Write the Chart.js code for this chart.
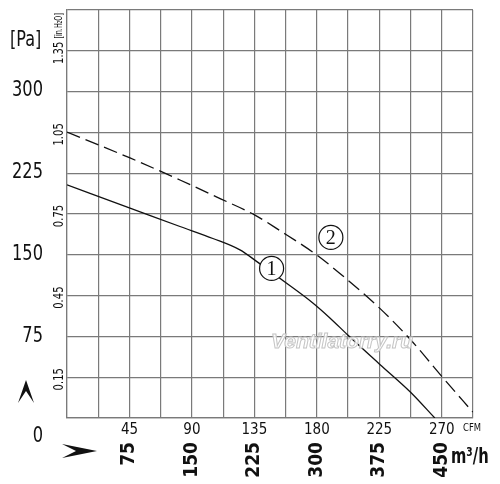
<!DOCTYPE html>
<html lang="en">
<head>
<meta charset="UTF-8" />
<title>Fan curve</title>
<script src="https://cdn.jsdelivr.net/npm/chart.js@4.4.1/dist/chart.umd.min.js"></script>
<style>
  body { margin: 0; background: #fff; }
  #wrap { width: 500px; height: 484px; position: relative; }
</style>
</head>
<body>
<div id="wrap"><canvas id="fan-graph"></canvas></div>
<script>
  // airflow in CFM, static pressure in in.H2O
  const curve1Flow  = [0, 45.4, 81.4, 105.1, 124.6, 136.8, 157.0, 177.1, 189.4, 202.3, 225.4, 247.7, 265.0];
  const curve1Press = [0.857, 0.772, 0.704, 0.660, 0.618, 0.575, 0.500, 0.423, 0.368, 0.305, 0.197, 0.094, 0];
  const curve2Flow  = [0, 45.4, 81.4, 108.0, 135.4, 153.4, 180.0, 202.3, 225.4, 247.7, 270.0, 292.3];
  const curve2Press = [1.051, 0.956, 0.875, 0.812, 0.746, 0.689, 0.599, 0.507, 0.403, 0.287, 0.153, 0.022];

  const cfmTicks   = [45, 90, 135, 180, 225, 270];
  const m3hTicks   = ['75', '150', '225', '300', '375', '450'];
  const inH2OTicks = [0.15, 0.45, 0.75, 1.05, 1.35];
  const paTicks    = [0, 75, 150, 225, 300];

  const narrow = "'Liberation Sans Narrow', 'DejaVu Sans Condensed', sans-serif";
  const gridColor = '#7a7a7a';

  function pts(xs, ys) {
    return xs.map((v, i) => ({ x: v, y: ys[i] }));
  }

  // squeezed text, the picture uses a very narrow face
  function narrowText(ctx, text, px, py, angle, squeeze) {
    ctx.save();
    ctx.translate(px, py);
    ctx.rotate(angle);
    ctx.scale(squeeze, 1);
    ctx.fillText(text, 0, 0);
    ctx.restore();
  }

  // extra text / marks that chart.js has no option for
  const decorations = {
    id: 'decorations',
    afterDatasetsDraw(chart) {
      const ctx = chart.ctx;
      const x = chart.scales.x, y = chart.scales.y;
      ctx.save();
      // watermark
      ctx.font = 'italic bold 21px Liberation Sans, sans-serif';
      ctx.textAlign = 'left';
      ctx.textBaseline = 'middle';
      ctx.fillStyle = 'rgba(255,255,255,0.85)';
      ctx.strokeStyle = '#c4c4c4';
      ctx.lineWidth = 1;
      ctx.fillText('Ventilatorry.ru', x.getPixelForValue(147), y.getPixelForValue(0.28));
      ctx.strokeText('Ventilatorry.ru', x.getPixelForValue(147), y.getPixelForValue(0.28));
      // curve numbers
      [[147.4, 0.55, '1'], [190.1, 0.664, '2']].forEach(function (m) {
        const cx = x.getPixelForValue(m[0]), cy = y.getPixelForValue(m[1]);
        ctx.beginPath();
        ctx.arc(cx, cy, 12, 0, Math.PI * 2);
        ctx.fillStyle = '#fff';
        ctx.fill();
        ctx.strokeStyle = '#111';
        ctx.lineWidth = 1.2;
        ctx.stroke();
        ctx.fillStyle = '#111';
        ctx.font = '20px Liberation Serif, serif';
        ctx.textAlign = 'center';
        ctx.fillText(m[2], cx, cy + 1);
      });
      ctx.restore();
    },
    afterDraw(chart) {
      const ctx = chart.ctx;
      const y = chart.scales.y, x = chart.scales.x, yPa = chart.scales.yPa;
      ctx.save();
      ctx.fillStyle = '#111';
      ctx.textBaseline = 'middle';
      // Pa labels (the 0 sits down on the m3/h row in the original)
      ctx.font = '22px ' + narrow;
      ctx.textAlign = 'right';
      paTicks.forEach(function (v) {
        const py = yPa.getPixelForValue(v) + (v === 0 ? 18 : 0);
        narrowText(ctx, String(v), yPa.right - 2, py, 0, 0.82);
      });
      // rotated in.H2O tick labels
      ctx.font = '14px ' + narrow;
      ctx.textAlign = 'center';
      inH2OTicks.forEach(function (v) {
        narrowText(ctx, v.toFixed(2), y.right - 8, y.getPixelForValue(v) + 2, -Math.PI / 2, 0.8);
      });
      ctx.font = '11px ' + narrow;
      narrowText(ctx, '[in.H\u2082O]', y.right - 8, y.getPixelForValue(1.35) - 25, -Math.PI / 2, 0.65);
      // unit titles
      ctx.textAlign = 'left';
      ctx.font = '21px ' + narrow;
      narrowText(ctx, '[Pa]', 10, 41, 0, 0.85);
      ctx.font = '11px ' + narrow;
      narrowText(ctx, 'CFM', x.right - 10, 428, 0, 0.85);
      ctx.font = 'bold 21px ' + narrow;
      ctx.textBaseline = 'alphabetic';
      narrowText(ctx, 'm\u00b3/h', x.right - 22, 463, 0, 0.78);
      // arrow heads
      ctx.beginPath();
      ctx.moveTo(26, 380); ctx.lineTo(34, 403); ctx.lineTo(26, 391); ctx.lineTo(18, 403);
      ctx.closePath();
      ctx.fill();
      ctx.beginPath();
      ctx.moveTo(97, 451); ctx.lineTo(62, 444); ctx.lineTo(76, 451); ctx.lineTo(62, 458);
      ctx.closePath();
      ctx.fill();
      ctx.restore();
    }
  };

  const fanCtx = document.getElementById('fan-graph').getContext('2d');
  const fanGraph = new Chart(fanCtx, {
    type: 'scatter',
    data: {
      datasets: [{
        label: '1',
        data: pts(curve1Flow, curve1Press),
        showLine: true,
        borderColor: '#111',
        borderWidth: 1.3,
        pointRadius: 0,
        cubicInterpolationMode: 'monotone'
      }, {
        label: '2',
        data: pts(curve2Flow, curve2Press),
        showLine: true,
        borderColor: '#111',
        borderWidth: 1.3,
        borderDash: [14, 6],
        pointRadius: 0,
        cubicInterpolationMode: 'monotone'
      }]
    },
    options: {
      responsive: true,
      maintainAspectRatio: false,
      animation: false,
      layout: { padding: { top: 10, right: 27, left: 0, bottom: 0 } },
      plugins: { legend: { display: false }, tooltip: { enabled: false } },
      scales: {
        x: {
          type: 'linear', position: 'bottom', min: 0, max: 292.5, weight: 0,
          afterBuildTicks: s => { s.ticks = Array.from({ length: 14 }, (_, i) => ({ value: i * 22.5 })); },
          afterFit: s => { s.height = 22; },
          grid: { color: gridColor, lineWidth: 1.2, drawTicks: false },
          border: { color: gridColor, width: 1.2 },
          ticks: {
            autoSkip: false, maxRotation: 0, padding: 3, color: '#111',
            font: { family: narrow, size: 15 },
            callback: v => cfmTicks.includes(v) ? String(v) : ''
          }
        },
        x2: {
          type: 'linear', position: 'bottom', min: 0, max: 292.5, weight: 1,
          afterBuildTicks: s => { s.ticks = cfmTicks.map(v => ({ value: v })); },
          afterFit: s => { s.height = 44; },
          grid: { display: false, drawTicks: false },
          border: { display: false },
          ticks: {
            autoSkip: false, minRotation: 90, maxRotation: 90, padding: 2, color: '#111',
            font: { family: narrow, size: 19, weight: 'bold' },
            callback: (v, i) => m3hTicks[i]
          }
        },
        y: {
          type: 'linear', position: 'left', min: 0, max: 1.5, weight: 0,
          afterBuildTicks: s => { s.ticks = Array.from({ length: 11 }, (_, i) => ({ value: i * 0.15 })); },
          afterFit: s => { s.width = 22; },
          grid: { color: gridColor, lineWidth: 1.2, drawTicks: false },
          border: { color: gridColor, width: 1.2 },
          ticks: { display: false }
        },
        yPa: {
          type: 'linear', position: 'left', min: 0, max: 1.5 * 249.09, weight: 1,
          afterBuildTicks: s => { s.ticks = paTicks.map(v => ({ value: v })); },
          afterFit: s => { s.width = 45; },
          grid: { display: false, drawTicks: false },
          border: { display: false },
          ticks: { display: false }
        }
      }
    },
    plugins: [decorations]
  });
</script>
</body>
</html>
